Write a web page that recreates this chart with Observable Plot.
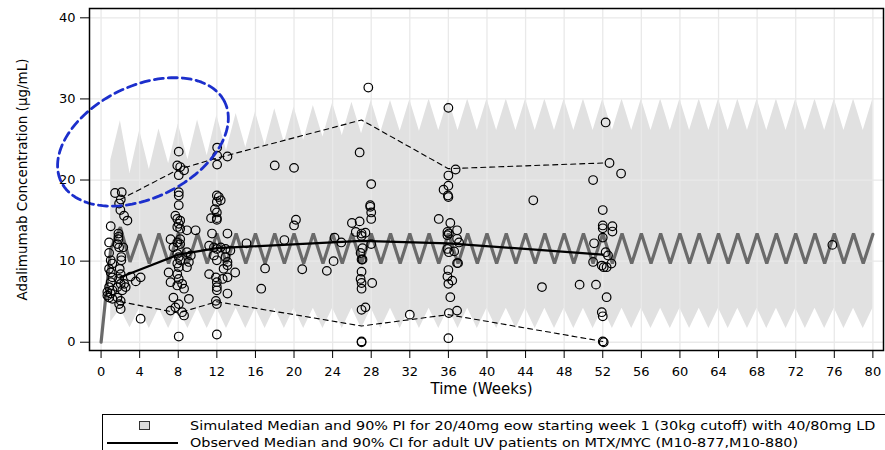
<!DOCTYPE html>
<html>
<head>
<meta charset="utf-8">
<script src="https://cdn.jsdelivr.net/npm/d3@7"></script>
<script src="https://cdn.jsdelivr.net/npm/@observablehq/plot@0.6"></script>
<style>
  body { margin: 0; background: #fff; font-family: "DejaVu Sans", sans-serif; }
  #wrap { position: relative; width: 885px; height: 450px; overflow: hidden; background: #fff; }
  #chart { position: absolute; left: 0; top: 0; }
  #legend { position: absolute; left: 102px; top: 414px; width: 800px; height: 60px; border: 1px solid #000; box-sizing: border-box; background: #fff; }
  .lg-text { position: absolute; left: 87px; font-size: 12px; line-height: 14px; color: #000; white-space: nowrap; transform: scaleX(1.2); transform-origin: 0 50%; }
  .lg-sq { position: absolute; left: 36px; top: 6px; width: 9px; height: 7px; background: #dcdcdc; border: 1px solid #333; }
  .lg-line { position: absolute; left: 4px; top: 27px; width: 71px; height: 2px; background: #000; }
</style>
</head>
<body>
<div id="wrap">
  <div id="chart"></div>
  <div id="legend">
    <div class="lg-sq"></div>
    <div class="lg-text" id="lg1" style="top:4px"></div>
    <div class="lg-line"></div>
    <div class="lg-text" id="lg2" style="top:21px"></div>
  </div>
</div>
<script>
// ---------- data ----------
const xTicks = [0, 4, 8, 12, 16, 20, 24, 28, 32, 36, 40, 44, 48, 52, 56, 60, 64, 68, 72, 76, 80];
const yTicks = [0, 10, 20, 30, 40];

const simWeeks = [0,1,2,3,4,5,6,7,8,9,10,11,12,13,14,15,16,17,18,19,20,21,22,23,24,25,26,27,28,29,30,
  31,32,33,34,35,36,37,38,39,40,41,42,43,44,45,46,47,48,49,50,51,52,53,54,55,56,57,58,59,60,
  61,62,63,64,65,66,67,68,69,70,71,72,73,74,75,76,77,78,79,80];
const simMedian = [0,11.5,14.2,9.9,13.3,9.7,13.4,9.7,13.4,9.7,13.4,9.7,13.4,9.7,13.4,9.7,13.4,9.7,13.4,9.7,13.4,
  9.7,13.4,9.7,13.4,9.7,13.4,9.7,13.4,9.7,13.4,9.7,13.4,9.7,13.4,9.7,13.4,9.7,13.4,9.7,13.4,
  9.7,13.4,9.7,13.4,9.7,13.4,9.7,13.4,9.7,13.4,9.7,13.4,9.7,13.4,9.7,13.4,9.7,13.4,9.7,13.4,
  9.7,13.4,9.7,13.4,9.7,13.4,9.7,13.4,9.7,13.4,9.7,13.4,9.7,13.4,9.7,13.4,9.7,13.4,9.7,13.3];
const simUpper = [null,22.4,27.3,20.8,26.1,21.3,26.3,22.0,26.9,22.5,27.4,23.0,28.0,23.6,28.2,24.0,28.4,24.3,28.8,24.6,29.0,
  24.9,29.2,25.3,29.5,25.5,29.6,25.7,29.8,25.9,29.8,26.0,29.9,26.0,30.0,26.1,30.0,26.1,30.0,26.1,30.0,
  26.1,30.0,26.1,30.0,26.1,30.0,26.1,30.0,26.1,30.0,26.1,30.0,26.1,30.0,26.1,30.0,26.1,30.0,26.1,30.0,
  26.1,30.0,26.1,30.0,26.1,30.0,26.1,30.0,26.1,30.0,26.1,30.0,26.1,30.0,26.1,30.0,26.1,30.0,26.1,30.0];
const simLower = [null,2.5,4.1,1.8,4.2,1.7,4.2,1.7,4.2,1.7,4.2,1.7,4.2,1.7,4.2,1.7,4.2,1.7,4.2,1.7,4.2,
  1.7,4.2,1.7,4.2,1.7,4.2,1.7,4.2,1.7,4.2,1.7,4.2,1.7,4.2,1.7,4.2,1.7,4.2,1.7,4.2,
  1.7,4.2,1.7,4.2,1.7,4.2,1.7,4.2,1.7,4.2,1.7,4.2,1.7,4.2,1.7,4.2,1.7,4.2,1.7,4.2,
  1.7,4.2,1.7,4.2,1.7,4.2,1.7,4.2,1.7,4.2,1.7,4.2,1.7,4.2,1.7,4.2,1.7,4.2,1.7,4.2];

const obsMedWeeks = [2, 8, 12, 27, 36, 52];
const obsMedian   = [8.0, 10.8, 11.6, 12.5, 12.2, 10.8];
const obsCIUpper  = [17.6, 21.3, 22.7, 27.4, 21.4, 22.1];
const obsCILower  = [5.0, 3.6, 5.0, 2.0, 3.4, 0.1];

const obsWeek = [
  1.45,2.14,2.04,1.87,2.0,2.38,2.73,1.0,1.8,1.8,1.8,0.83,1.7,1.87,2.3,0.83,2.1,2.1,1.0,1.17,
  0.83,1.0,1.93,2.03,3.07,3.6,4.1,1.17,1.0,1.87,2.03,2.4,2.55,2.2,1.7,0.83,1.17,0.65,1.0,0.83,
  1.17,0.65,1.7,2.03,1.87,2.03,4.1,
  8.05,7.9,8.2,8.6,8.05,8.05,8.05,8.05,7.7,7.9,8.2,8.05,7.9,8.2,8.9,9.8,7.2,8.2,7.9,8.2,
  7.5,8.9,9.3,7.9,8.05,8.2,7.9,8.05,9.1,8.9,7.0,7.9,8.05,7.2,7.9,8.4,8.6,7.5,9.1,8.05,
  7.7,7.2,8.4,8.6,8.05,
  12.03,12.03,13.1,12.03,12.0,12.2,12.4,12.0,11.8,12.0,11.4,12.0,12.0,11.5,13.1,11.2,11.7,12.0,12.4,12.9,
  13.4,11.7,12.9,12.0,13.1,13.1,12.7,13.9,11.2,11.9,12.6,13.1,12.0,12.0,12.0,13.1,11.9,12.0,12.0,
  15.07,17.0,16.6,18.0,20.0,20.2,20.0,19.0,20.85,23.4,24.1,24.2,24.9,26.0,26.8,26.8,27.7,28.0,27.9,27.9,
  28.0,28.0,26.4,27.0,27.0,27.4,28.0,27.1,26.9,27.0,27.1,27.0,26.9,27.0,27.0,28.1,27.0,27.4,27.0,27.0,
  32.0,
  36.0,36.75,36.0,36.0,35.5,35.95,36.0,35.0,36.2,36.9,35.9,35.9,36.05,36.9,37.1,35.9,36.05,36.6,36.9,37.0,
  36.0,35.9,36.4,36.0,36.2,36.05,36.9,36.0,
  52.3,52.7,53.9,51.0,44.8,52.0,52.0,52.0,53.0,53.0,52.0,51.1,52.3,52.55,51.0,51.9,52.1,52.4,52.9,45.7,
  49.6,51.3,52.4,51.9,52.0,52.0,52.1,75.8
];
const obsConc = [
  18.4,18.5,17.6,17.1,16.3,15.6,15.0,14.3,13.4,13.0,12.7,12.3,12.1,11.7,11.7,11.0,10.5,10.1,10.1,9.7,
  9.05,8.6,9.05,8.4,8.1,7.5,8.0,8.0,7.4,7.8,7.2,7.2,6.8,6.4,6.8,6.8,6.4,6.2,6.0,5.5,
  5.35,5.75,5.5,5.1,4.7,4.1,2.9,
  23.5,21.8,21.6,21.2,20.6,18.5,18.1,16.9,15.6,15.2,15.0,14.6,14.2,14.0,13.8,13.8,12.7,12.7,12.3,12.1,
  11.7,11.1,10.7,10.9,10.5,10.1,9.7,9.25,9.9,9.25,8.6,8.4,7.8,7.4,7.0,7.2,6.6,5.5,5.35,4.7,
  4.3,3.9,3.7,3.3,0.7,
  24.0,23.0,22.9,21.9,18.1,17.9,17.5,17.3,16.4,16.0,15.3,15.3,15.1,13.4,13.4,11.9,11.7,11.5,11.7,11.5,
  11.3,10.7,10.5,10.1,9.9,9.5,9.05,8.6,8.4,8.0,7.8,8.0,7.4,6.8,6.4,6.0,5.1,4.7,0.95,
  12.2,9.1,6.6,21.8,21.5,15.1,14.4,12.6,9.0,8.8,10.0,12.9,12.3,14.7,14.9,23.4,31.4,19.5,16.9,16.7,
  16.0,15.2,13.6,13.4,13.1,13.5,12.1,11.6,11.0,10.2,10.2,8.7,7.8,7.3,6.6,7.3,4.0,4.3,0.1,0.0,
  3.4,
  28.9,21.3,20.55,19.3,18.8,18.1,17.9,15.2,14.7,13.8,13.6,13.2,13.4,12.75,12.3,11.5,11.1,11.2,9.75,9.75,
  8.9,8.1,7.6,7.2,5.55,3.6,3.9,0.5,
  27.1,22.1,20.8,20.0,17.5,16.3,14.4,14.05,14.3,13.65,12.9,12.2,11.1,10.7,9.9,9.45,9.25,9.25,9.7,6.8,
  7.1,7.1,5.55,3.7,3.2,0.1,0.0,12.0
];

const xLabel = "Time (Weeks)";
const yLabel = "Adalimumab Concentration (µg/mL)";
const legendLabels = [
  "Simulated Median and 90% PI for 20/40mg eow  starting week 1 (30kg cutoff) with 40/80mg LD",
  "Observed Median and 90% CI for adult UV patients on MTX/MYC (M10-877,M10-880)"
];

// annotation ellipse (centre in data units, radii in px, tilt in degrees)
const ellipseCenter = [4.34, 24.7];
const ellipseRadiiPx = [91, 56];
const ellipseTilt = 26;

// ---------- layout ----------
const W = 885, H = 400, mL = 89, mR = 2, mT = 8, mB = 50;
const xDomain = [-1.2, 81.1], yDomain = [-1.02, 41.15];

const sim = simWeeks.map((w, i) => ({week: w, median: simMedian[i], upper: simUpper[i], lower: simLower[i]}));
const obsMed = obsMedWeeks.map((w, i) => ({week: w, median: obsMedian[i], hi: obsCIUpper[i], lo: obsCILower[i]}));
const obs = obsWeek.map((w, i) => ({week: w, conc: obsConc[i]}));

const kx = (W - mL - mR) / (xDomain[1] - xDomain[0]);
const ky = (H - mT - mB) / (yDomain[1] - yDomain[0]);
const th = ellipseTilt * Math.PI / 180;
const ell = d3.range(0, 121).map(k => {
  const t = k / 120 * 2 * Math.PI;
  const px = ellipseRadiiPx[0] * Math.cos(t), py = ellipseRadiiPx[1] * Math.sin(t);
  const X = px * Math.cos(th) - py * Math.sin(th);
  const Y = px * Math.sin(th) + py * Math.cos(th);
  return {x: ellipseCenter[0] + X / kx, y: ellipseCenter[1] + Y / ky};
});

const chart = Plot.plot({
  width: W, height: H,
  marginLeft: mL, marginRight: mR, marginTop: mT, marginBottom: mB,
  style: {fontFamily: "DejaVu Sans, sans-serif", fontSize: "13px", color: "#000", background: "#fff", overflow: "visible"},
  x: {domain: xDomain, ticks: xTicks, tickSize: 8, tickPadding: 8, label: null},
  y: {domain: yDomain, ticks: yTicks, tickSize: 9, tickPadding: 5, label: null},
  marks: [
    Plot.areaY(sim, {x: "week", y1: "lower", y2: "upper", fill: "#e1e1e1", curve: "linear"}),
    Plot.ruleX(xTicks, {stroke: "#e9e9e9", strokeWidth: 1.3}),
    Plot.ruleY(yTicks, {stroke: "#e9e9e9", strokeWidth: 1.3}),
    Plot.line(sim, {x: "week", y: "median", stroke: "#6a6a6a", strokeWidth: 3.2, strokeLinejoin: "miter"}),
    Plot.line(obsMed, {x: "week", y: "hi", stroke: "#000", strokeWidth: 1.1, strokeDasharray: "5,4"}),
    Plot.line(obsMed, {x: "week", y: "lo", stroke: "#000", strokeWidth: 1.1, strokeDasharray: "5,4"}),
    Plot.dot(obs, {x: "week", y: "conc", r: 4.3, stroke: "#000", strokeWidth: 1.2, fill: "none"}),
    Plot.line(obsMed, {x: "week", y: "median", stroke: "#000", strokeWidth: 2.2}),
    Plot.line(ell, {x: "x", y: "y", stroke: "#1c2fcc", strokeWidth: 2.8, strokeDasharray: "9,5"}),
    Plot.text([xLabel], {frameAnchor: "bottom", dx: -5, dy: 39, fontSize: 15, textAnchor: "middle", lineAnchor: "middle"}),
    Plot.text([yLabel], {frameAnchor: "left", dx: -67, rotate: -90, fontSize: 13.5, textAnchor: "middle", lineAnchor: "middle"}),
    Plot.frame({stroke: "#000", strokeWidth: 1.5})
  ]
});
document.getElementById("chart").appendChild(chart);
document.getElementById("lg1").textContent = legendLabels[0];
document.getElementById("lg2").textContent = legendLabels[1];
</script>
</body>
</html>
